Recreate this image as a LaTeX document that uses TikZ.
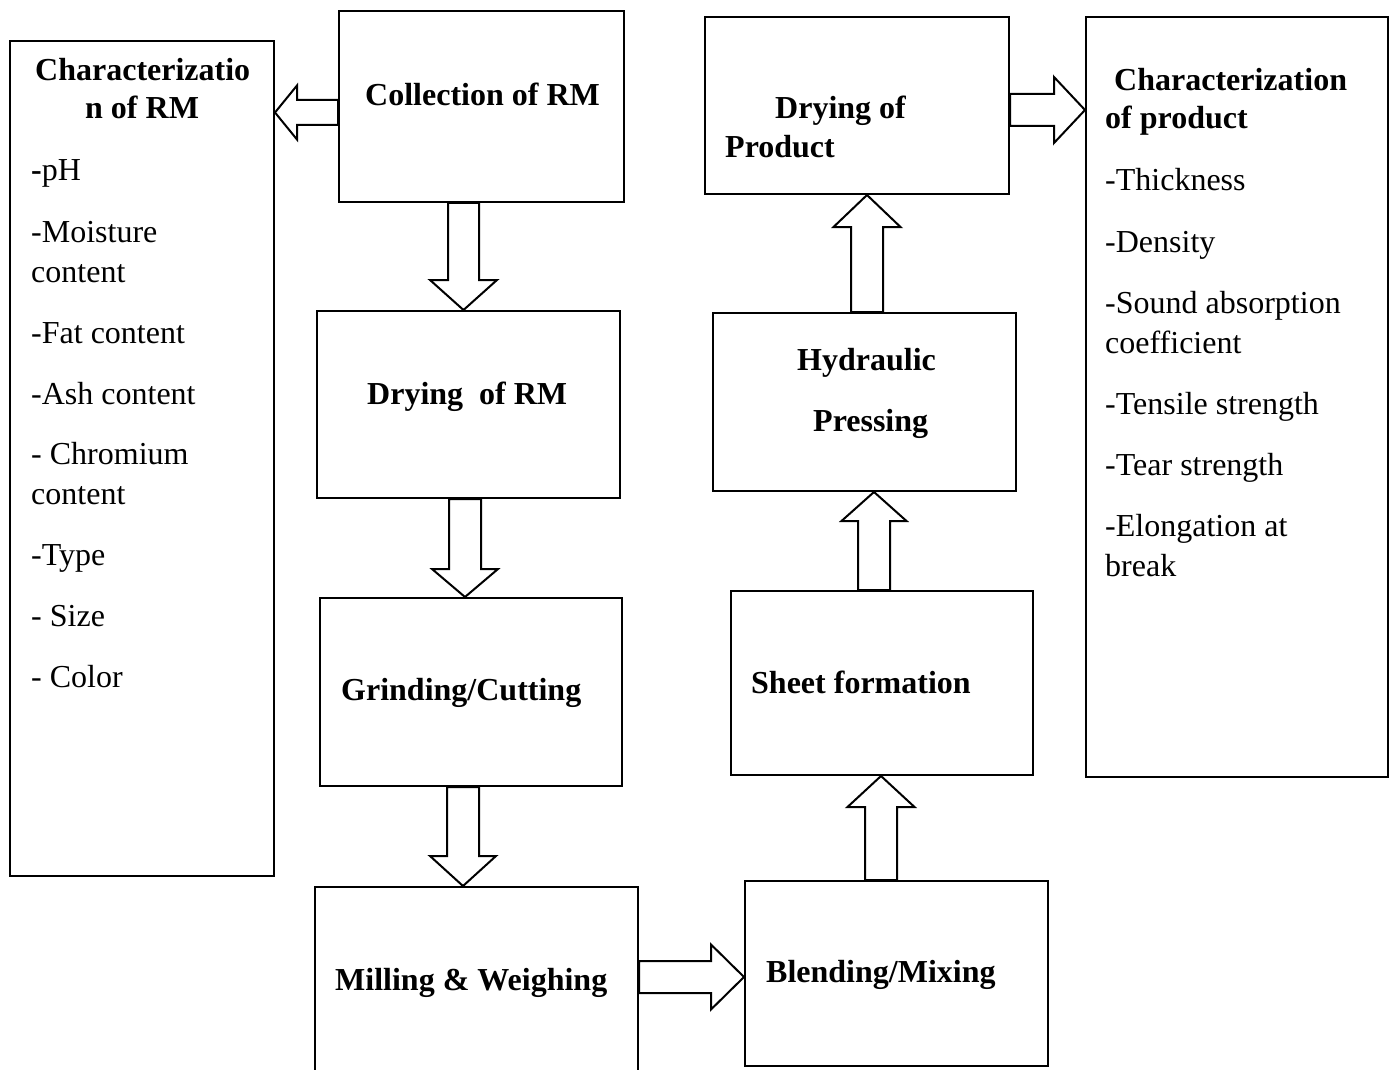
\documentclass[tikz,border=0pt]{standalone}
\usepackage{fontspec}
\setmainfont{Liberation Serif}
\usetikzlibrary{calc}
\tikzset{
  box/.style={draw, line width=2pt, inner sep=0pt, anchor=north west},
  lbl/.style={anchor=base west, inner sep=0pt, font=\fontsize{32}{40}\selectfont},
  ttl/.style={anchor=base west, inner sep=0pt, font=\fontsize{32}{40}\selectfont\bfseries},
  barrow/.style={draw, fill=white, line width=2pt, line join=miter, miter limit=10},
}
\newcommand\blockarr[5]{%
  \coordinate (bah) at ($(#2)!#5pt!(#1)$);
  \draw[barrow] ($(#1)!#3pt!90:(#2)$) -- ($(bah)!#3pt!90:(#2)$) -- ($(bah)!#4pt!90:(#2)$) -- (#2)
    -- ($(bah)!#4pt!-90:(#2)$) -- ($(bah)!#3pt!-90:(#2)$) -- ($(#1)!#3pt!-90:(#2)$) -- cycle;
}
\begin{document}
\begin{tikzpicture}[x=1pt,y=-1pt]
\fill[white] (0,0) rectangle (1393,1070);
\useasboundingbox (0,0) rectangle (1393,1070);

% boxes
\node[box, minimum width=264pt, minimum height=835pt] (charrm) at (9,40) {};
\node[box, minimum width=285pt, minimum height=191pt] (coll) at (338,10) {};
\node[box, minimum width=303pt, minimum height=187pt] (dryrm) at (316,310) {};
\node[box, minimum width=302pt, minimum height=188pt] (grind) at (319,597) {};
\node[box, minimum width=323pt, minimum height=194pt] (mill) at (314,886) {};
\node[box, minimum width=303pt, minimum height=185pt] (blend) at (744,880) {};
\node[box, minimum width=302pt, minimum height=184pt] (sheet) at (730,590) {};
\node[box, minimum width=303pt, minimum height=178pt] (hyd) at (712,312) {};
\node[box, minimum width=304pt, minimum height=177pt] (drprod) at (704,16) {};
\node[box, minimum width=302pt, minimum height=760pt] (charprod) at (1085,16) {};

% box titles
\node[ttl] (t-charrm1) at (35,81) {Characterizatio};
\node[ttl] (t-charrm2) at (85,119) {n of RM};
\node[ttl] (t-coll) at (365,106) {Collection of RM};
\node[ttl] (t-dryrm) at (367,404) {Drying\ \ of RM};
\node[ttl] (t-grind) at (341,700) {Grinding/Cutting};
\node[ttl] (t-mill) at (335,990) {Milling \& Weighing};
\node[ttl] (t-blend) at (766,982) {Blending/Mixing};
\node[ttl] (t-sheet) at (751,693) {Sheet formation};
\node[ttl] (t-hyd1) at (797,370) {Hydraulic};
\node[ttl] (t-hyd2) at (813,431) {Pressing};
\node[ttl] (t-drprod1) at (775,119) {Drying of};
\node[ttl] (t-drprod2) at (725,158) {Product};
\node[ttl] (t-charprod1) at (1114,91) {Characterization};
\node[ttl] (t-charprod2) at (1105,129) {of product};

% list of raw material characterization
\node[lbl] (r1) at (31,181) {\textbf{-}pH};
\node[lbl] (r2) at (31,242) {-Moisture};
\node[lbl] (r3) at (31,282) {content};
\node[lbl] (r4) at (31,343) {-Fat content};
\node[lbl] (r5) at (31,404) {-Ash content};
\node[lbl] (r6) at (31,464) {- Chromium};
\node[lbl] (r7) at (31,504) {content};
\node[lbl] (r8) at (31,565) {-Type};
\node[lbl] (r9) at (31,626) {- Size};
\node[lbl] (r10) at (31,687) {- Color};

% list of product characterization
\node[lbl] (p1) at (1105,191) {-Thickness};
\node[lbl] (p2) at (1105,252) {-Density};
\node[lbl] (p3) at (1105,313) {-Sound absorption};
\node[lbl] (p4) at (1105,353) {coefficient};
\node[lbl] (p5) at (1105,414) {-Tensile strength};
\node[lbl] (p6) at (1105,475) {-Tear strength};
\node[lbl] (p7) at (1105,536) {-Elongation at};
\node[lbl] (p8) at (1105,576) {break};

% connectors (block arrows)
\coordinate (a1s) at (coll.west |- 0,112.5);
\coordinate (a1e) at (charrm.east |- 0,112.5);
\blockarr{a1s}{a1e}{12.5}{27}{22}
\coordinate (a2s) at (463.5,0 |- coll.south);
\coordinate (a2e) at (463.5,0 |- dryrm.north);
\blockarr{a2s}{a2e}{15.5}{33.5}{30}
\coordinate (a3s) at (465,0 |- dryrm.south);
\coordinate (a3e) at (465,0 |- grind.north);
\blockarr{a3s}{a3e}{16}{33}{28}
\coordinate (a4s) at (463,0 |- grind.south);
\coordinate (a4e) at (463,0 |- mill.north);
\blockarr{a4s}{a4e}{16}{33}{30}
\coordinate (a5s) at (mill.east |- 0,977);
\coordinate (a5e) at (blend.west |- 0,977);
\blockarr{a5s}{a5e}{16}{32.5}{33}
\coordinate (a6s) at (881,0 |- blend.north);
\coordinate (a6e) at (881,0 |- sheet.south);
\blockarr{a6s}{a6e}{16}{33.5}{31}
\coordinate (a7s) at (874,0 |- sheet.north);
\coordinate (a7e) at (874,0 |- hyd.south);
\blockarr{a7s}{a7e}{16}{32.5}{29}
\coordinate (a8s) at (867,0 |- hyd.north);
\coordinate (a8e) at (867,0 |- drprod.south);
\blockarr{a8s}{a8e}{16}{33.5}{32}
\coordinate (a9s) at (drprod.east |- 0,110);
\coordinate (a9e) at (charprod.west |- 0,110);
\blockarr{a9s}{a9e}{16}{33}{31}
\end{tikzpicture}
\end{document}
